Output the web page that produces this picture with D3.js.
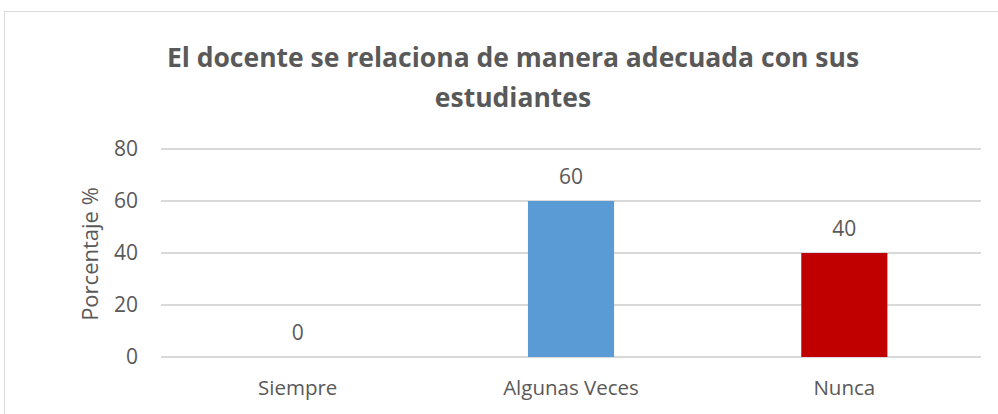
<!DOCTYPE html>
<html lang="es">
<head>
    <meta charset="UTF-8">
    <title>El docente se relaciona de manera adecuada con sus estudiantes</title>
    <script src="https://d3js.org/d3.v7.min.js"></script>
    <style>
        body { margin: 0; background: #fff; }
        text { font-family: "Open Sans", "Liberation Sans", sans-serif; fill: #595959; }
        .grid line { stroke: #d9d9d9; stroke-width: 2px; }
        .title { font-weight: bold; font-size: 26.5px; }
        .tick-label { font-size: 21px; }
        .axis-title { font-size: 22px; }
        .cat-label { font-size: 20.5px; }
        .value-label { font-size: 21px; }
    </style>
</head>
<body>
<svg width="998" height="414"></svg>

<script>
    // data
    const categories = ["Siempre", "Algunas Veces", "Nunca"];
    const values = [0, 60, 40];
    const barColors = ["#5b9bd5", "#5b9bd5", "#c00000"];
    const yTicks = [0, 20, 40, 60, 80];
    const titleLines = ["El docente se relaciona de manera adecuada con sus", "estudiantes"];
    const yTitle = "Porcentaje %";

    const svg = d3.select("svg");

    // chart frame
    svg.append("rect")
        .attr("x", 4.5).attr("y", 11.5)
        .attr("width", 1000).attr("height", 420)
        .attr("fill", "none")
        .attr("stroke", "#d9d9d9")
        .attr("stroke-width", 1);

    const plot = { left: 161, right: 981, top: 149, bottom: 357 };

    const x = d3.scaleBand()
        .domain(categories)
        .range([plot.left, plot.right])
        .padding(0);

    const y = d3.scaleLinear()
        .domain([0, 80])
        .range([plot.bottom, plot.top]);

    // gridlines
    svg.append("g").attr("class", "grid")
        .selectAll("line")
        .data(yTicks)
        .enter()
        .append("line")
        .attr("x1", plot.left)
        .attr("x2", plot.right)
        .attr("y1", d => y(d))
        .attr("y2", d => y(d));

    // y tick labels
    svg.append("g")
        .selectAll("text")
        .data(yTicks)
        .enter()
        .append("text")
        .attr("class", "tick-label")
        .attr("x", 138)
        .attr("y", d => y(d))
        .attr("dy", "0.35em")
        .attr("text-anchor", "end")
        .text(d => d);

    // bars
    const barW = x.bandwidth() * 0.315;
    svg.append("g")
        .selectAll("rect")
        .data(values)
        .enter()
        .append("rect")
        .attr("x", (d, i) => x(categories[i]) + x.bandwidth() / 2 - barW / 2)
        .attr("y", d => y(d))
        .attr("width", barW)
        .attr("height", d => y(0) - y(d))
        .attr("fill", (d, i) => barColors[i]);

    // value labels
    svg.append("g")
        .selectAll("text")
        .data(values)
        .enter()
        .append("text")
        .attr("class", "value-label")
        .attr("x", (d, i) => x(categories[i]) + x.bandwidth() / 2)
        .attr("y", d => y(d) - 24)
        .attr("dy", "0.35em")
        .attr("text-anchor", "middle")
        .text(d => d);

    // category labels
    svg.append("g")
        .selectAll("text")
        .data(categories)
        .enter()
        .append("text")
        .attr("class", "cat-label")
        .attr("x", d => x(d) + x.bandwidth() / 2)
        .attr("y", 388)
        .attr("dy", "0.35em")
        .attr("text-anchor", "middle")
        .text(d => d);

    // y-axis title
    svg.append("text")
        .attr("class", "axis-title")
        .attr("transform", "translate(90,254) rotate(-90)")
        .attr("dy", "0.35em")
        .attr("text-anchor", "middle")
        .text(yTitle);

    // chart title
    svg.append("g")
        .selectAll("text")
        .data(titleLines)
        .enter()
        .append("text")
        .attr("class", "title")
        .attr("x", 513)
        .attr("y", (d, i) => 58 + i * 40)
        .attr("dy", "0.35em")
        .attr("text-anchor", "middle")
        .text(d => d);
</script>
</body>
</html>
